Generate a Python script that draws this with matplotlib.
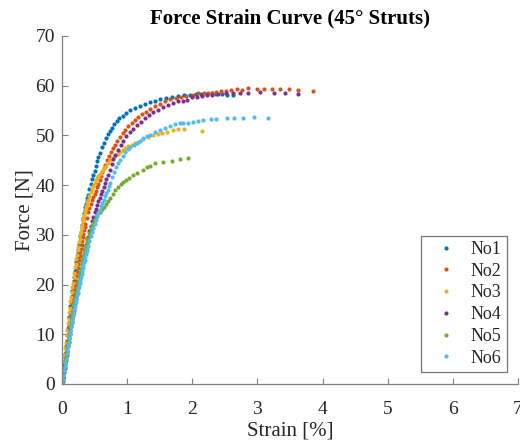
import matplotlib
matplotlib.use("Agg")
import matplotlib.pyplot as plt

labels = ["No1", "No2", "No3", "No4", "No5", "No6"]
colors = ["#0072BD", "#D95319", "#EDB120", "#7E2F8E", "#77AC30", "#4DBEEE"]

s_no1 = [0, .01, .02, .03, .04, .05, .06, .07, .08, .09, .10, .11, .12, .13, .14, .15, .16, .17, .18, .19,
         .20, .21, .22, .23, .24, .25, .26, .27, .28, .29, .30, .31, .32, .33, .34, .35, .36, .37, .38, .39,
         .40, .42, .44, .46, .48, .50, .52, .54, .56, .58, .61, .64, .67, .70, .73, .76, .80, .84, .88, .93,
         .99, 1.05, 1.12, 1.19, 1.27, 1.35, 1.43, 1.51, 1.60, 1.69, 1.78, 1.87, 1.96, 2.05, 2.14, 2.22, 2.30,
         2.36, 2.45, 2.53, 2.62]
f_no1 = [0, 1.5, 2.8, 4.0, 5.3, 6.1, 7.6, 8.7, 9.9, 11.2, 12.0, 13.4, 14.3, 15.6, 16.5, 17.8, 18.7, 19.6, 20.8, 21.5,
         22.7, 23.4, 24.6, 25.3, 26.4, 27.0, 28.1, 28.7, 29.8, 30.5, 31.3, 32.0, 32.9, 33.4, 34.3, 34.9, 35.6, 36.3, 36.8, 37.5,
         38.1, 39.3, 40.2, 41.2, 42.0, 42.9, 43.9, 44.8, 45.6, 46.4, 47.6, 48.5, 49.4, 50.2, 50.9, 51.5, 52.3, 52.9, 53.5, 54.0,
         54.6, 55.1, 55.5, 56.0, 56.4, 56.8, 57.0, 57.3, 57.5, 57.8, 58.0, 58.1, 58.2, 58.3, 58.4, 58.4, 58.5,
         58.4, 58.3, 58.2, 58.1]

s_no2 = [0, .01, .02, .03, .04, .05, .06, .07, .08, .09, .10, .11, .12, .13, .14, .15, .16, .17, .18, .19,
         .20, .21, .22, .23, .24, .25, .26, .27, .28, .29, .30, .31, .32, .33, .34, .35, .36, .38, .40, .42,
         .44, .46, .48, .50, .52, .54, .56, .58, .60, .62, .64, .66, .69, .72, .75, .78, .81, .85, .89, .93,
         .97, 1.02, 1.07, 1.12, 1.17, 1.23, 1.29, 1.35, 1.42, 1.50, 1.58, 1.66, 1.75, 1.83, 1.90, 2.01, 2.09,
         2.18, 2.24, 2.31, 2.37, 2.44, 2.51, 2.60, 2.68, 2.77, 2.86, 2.99, 3.10, 3.22, 3.35, 3.48, 3.63, 3.86]
f_no2 = [0, 1.2, 2.3, 3.5, 4.4, 5.6, 6.5, 7.7, 8.6, 9.8, 10.7, 11.6, 12.7, 13.5, 14.6, 15.4, 16.5, 17.2, 18.3, 19.1,
         20.0, 20.8, 21.7, 22.5, 23.4, 24.1, 25.0, 25.7, 26.6, 27.2, 28.0, 28.7, 29.5, 30.1, 30.9, 31.5, 32.2, 33.4, 34.6, 35.5,
         36.3, 37.0, 37.6, 38.3, 38.9, 39.6, 40.3, 41.0, 41.8, 42.6, 43.4, 44.0, 45.1, 45.9, 46.7, 47.4, 48.1, 48.9, 49.7, 50.4,
         51.0, 51.8, 52.5, 53.1, 53.7, 54.3, 54.8, 55.3, 55.9, 56.4, 56.9, 57.3, 57.6, 57.8, 58.0, 58.2, 58.5,
         58.5, 58.6, 58.6, 58.8, 58.9, 58.9, 59.1, 59.3, 59.2, 59.5, 59.3, 59.4, 59.3, 59.3, 59.3, 59.2, 58.9]

s_no3 = [0, .01, .02, .03, .04, .05, .06, .07, .08, .09, .10, .11, .12, .13, .14, .15, .16, .17, .18, .19,
         .20, .21, .22, .23, .24, .25, .26, .27, .28, .29, .30, .31, .32, .33, .34, .35, .36, .37, .38, .39,
         .40, .42, .44, .46, .48, .50, .52, .54, .56, .58, .61, .64, .67, .70, .74, .78, .82, .86, .89, .93,
         .97, 1.02, 1.07, 1.12, 1.17, 1.24, 1.32, 1.40, 1.47, 1.53, 1.61, 1.70, 1.78, 1.87, 2.15]
f_no3 = [0, 2.0, 3.1, 4.7, 5.8, 7.3, 8.3, 9.9, 10.8, 12.2, 13.0, 14.5, 15.3, 16.6, 17.4, 18.6, 19.5, 20.4, 21.6, 22.3,
         23.5, 24.1, 25.2, 25.9, 26.9, 27.5, 28.5, 29.1, 30.0, 30.6, 31.4, 32.0, 32.8, 33.3, 34.0, 34.5, 35.1, 35.6, 36.1, 36.6,
         37.0, 37.9, 38.6, 39.3, 39.9, 40.5, 41.0, 41.5, 41.9, 42.3, 42.9, 43.4, 43.9, 44.4, 45.0, 45.5, 45.9, 46.3, 46.7, 47.1,
         47.5, 47.8, 48.1, 48.4, 48.7, 49.3, 49.7, 50.1, 50.3, 50.5, 50.7, 51.1, 51.3, 51.3, 50.9]

s_no4 = [0, .01, .02, .03, .04, .05, .06, .07, .08, .09, .10, .11, .12, .13, .14, .15, .16, .17, .18, .19,
         .20, .21, .22, .23, .24, .25, .26, .27, .28, .29, .30, .31, .32, .33, .34, .35, .36, .37, .38, .39,
         .40, .42, .44, .46, .48, .50, .52, .54, .56, .58, .60, .62, .64, .66, .68, .70, .73, .76, .79, .82,
         .86, .90, .94, .99, 1.04, 1.09, 1.15, 1.21, 1.27, 1.33, 1.40, 1.47, 1.55, 1.63, 1.71, 1.78, 1.85,
         1.92, 1.99, 2.07, 2.15, 2.22, 2.30, 2.39, 2.51, 2.62, 2.73, 2.85, 3.04, 3.25, 3.42, 3.62]
f_no4 = [0, 0.7, 1.5, 2.4, 3.2, 4.1, 4.9, 5.9, 6.7, 7.6, 8.4, 9.2, 10.0, 10.9, 11.6, 12.5, 13.2, 14.0, 14.8, 15.5,
         16.3, 17.0, 17.8, 18.5, 19.3, 20.0, 20.6, 21.4, 22.0, 22.8, 23.4, 24.1, 24.7, 25.4, 26.0, 26.7, 27.2, 27.9, 28.4, 29.1,
         29.6, 30.7, 31.7, 32.7, 33.6, 34.5, 35.3, 36.0, 36.8, 37.5, 38.2, 38.9, 39.7, 40.5, 41.3, 42.0, 43.1, 44.2, 45.2, 46.0,
         47.1, 48.0, 48.8, 49.8, 50.6, 51.3, 52.1, 52.8, 53.5, 54.1, 54.7, 55.2, 55.8, 56.2, 56.6, 56.9, 57.0,
         57.2, 57.7, 57.7, 57.9, 58.1, 58.2, 58.3, 58.5, 58.5, 58.5, 58.6, 58.8, 58.5, 58.5, 58.3]

s_no5 = [0, .01, .02, .03, .04, .05, .06, .07, .08, .09, .10, .11, .12, .13, .14, .15, .16, .17, .18, .19,
         .20, .21, .22, .23, .24, .25, .26, .27, .28, .29, .30, .31, .32, .33, .34, .35, .36, .37, .38, .39,
         .40, .42, .44, .46, .48, .50, .52, .54, .56, .58, .60, .62, .64, .67, .70, .74, .78, .82, .86, .91,
         .94, .98, 1.03, 1.09, 1.15, 1.24, 1.30, 1.35, 1.43, 1.55, 1.69, 1.81, 1.93]
f_no5 = [0, 0.9, 1.8, 2.7, 3.6, 4.6, 5.4, 6.4, 7.2, 8.1, 9.0, 9.9, 10.7, 11.6, 12.4, 13.2, 14.0, 14.8, 15.6, 16.3,
         17.1, 17.8, 18.5, 19.2, 19.9, 20.6, 21.2, 21.9, 22.5, 23.2, 23.8, 24.4, 25.0, 25.6, 26.2, 26.7, 27.3, 27.8, 28.4, 28.9,
         29.4, 30.3, 31.1, 31.8, 32.4, 33.0, 33.5, 33.9, 34.3, 34.6, 34.9, 35.3, 35.7, 36.3, 36.8, 37.5, 38.3, 39.0, 39.6, 40.2,
         40.6, 41.0, 41.5, 42.0, 42.5, 43.1, 43.7, 43.8, 44.5, 44.6, 44.9, 45.2, 45.5]

s_no6 = [0, .01, .02, .03, .04, .05, .06, .07, .08, .09, .10, .11, .12, .13, .14, .15, .16, .17, .18, .19,
         .20, .21, .22, .23, .24, .25, .26, .27, .28, .29, .30, .31, .32, .33, .34, .35, .36, .37, .38, .39,
         .40, .42, .44, .46, .48, .50, .52, .54, .56, .58, .60, .62, .64, .66, .68, .70, .72, .74, .77, .80,
         .83, .86, .89, .93, .97, 1.01, 1.05, 1.10, 1.15, 1.20, 1.25, 1.30, 1.35, 1.42, 1.50, 1.58, 1.66,
         1.74, 1.81, 1.86, 1.93, 2.01, 2.09, 2.17, 2.28, 2.37, 2.53, 2.64, 2.78, 2.94, 3.16]
f_no6 = [0, 0.9, 1.7, 2.6, 3.4, 4.3, 5.1, 6.0, 6.8, 7.6, 8.5, 9.2, 10.0, 10.7, 11.5, 12.2, 12.9, 13.7, 14.3, 15.1,
         15.7, 16.5, 17.1, 17.9, 18.4, 19.2, 19.7, 20.4, 21.0, 21.6, 22.2, 22.8, 23.4, 23.9, 24.5, 25.0, 25.6, 26.1, 26.7, 27.2,
         27.7, 28.7, 29.7, 30.6, 31.4, 32.2, 33.0, 33.7, 34.4, 35.1, 35.8, 36.5, 37.1, 37.8, 38.5, 39.1, 39.8, 40.5, 41.6, 42.7,
         43.6, 44.4, 45.1, 45.9, 46.6, 47.2, 47.6, 48.1, 48.5, 48.9, 49.4, 49.8, 50.1, 50.6, 51.1, 51.5, 51.9,
         52.2, 52.5, 52.5, 52.6, 52.7, 52.9, 53.1, 53.3, 53.4, 53.5, 53.5, 53.6, 53.7, 53.5]

strains = [s_no1, s_no2, s_no3, s_no4, s_no5, s_no6]
forces = [f_no1, f_no2, f_no3, f_no4, f_no5, f_no6]

x_ticks = [0, 1, 2, 3, 4, 5, 6, 7]
y_ticks = [0, 10, 20, 30, 40, 50, 60, 70]

plt.rcParams['font.family'] = ['Liberation Serif', 'DejaVu Serif']
axis_gray = "#808080"
text_col = "#262626"

fig = plt.figure(figsize=(5.2, 4.46), dpi=100)
ax = fig.add_axes([62/520, 1-384/446, 456/520, 348/446])

for s, f, c, lab in zip(strains, forces, colors, labels):
    ax.plot(s, f, linestyle='none', marker='o', markersize=3.0, markeredgewidth=0,
            color=c, label=lab)

ax.set_xlim(0, 7)
ax.set_ylim(0, 70)
ax.set_xticks(x_ticks)
ax.set_yticks(y_ticks)
ax.spines['top'].set_visible(False)
ax.spines['right'].set_visible(False)
for sp in ('left', 'bottom'):
    ax.spines[sp].set_color(axis_gray)
    ax.spines[sp].set_linewidth(0.9)
ax.tick_params(direction='in', length=4, width=0.8, color=axis_gray,
               labelcolor=text_col, labelsize=14)
ax.tick_params(axis='x', pad=12)
ax.tick_params(axis='y', pad=5)

ax.set_xlabel("Strain [%]", fontsize=15, color=text_col, labelpad=3)
ax.set_ylabel("Force [N]", fontsize=15, color=text_col, labelpad=1)
ax.set_title("Force Strain Curve (45° Struts)", fontsize=15, fontweight='bold',
             color='black', pad=9)

leg = ax.legend(loc='lower right', bbox_to_anchor=(0.976, 0.0345), borderaxespad=0,
                fontsize=13, frameon=True, fancybox=False, markerscale=1.0,
                handlelength=2.2, handletextpad=0.25, labelspacing=0.26,
                borderpad=0.3)
leg.get_frame().set_edgecolor("#555555")
leg.get_frame().set_linewidth(0.9)
for t in leg.get_texts():
    t.set_color(text_col)

fig.savefig("out.png", dpi=100)
